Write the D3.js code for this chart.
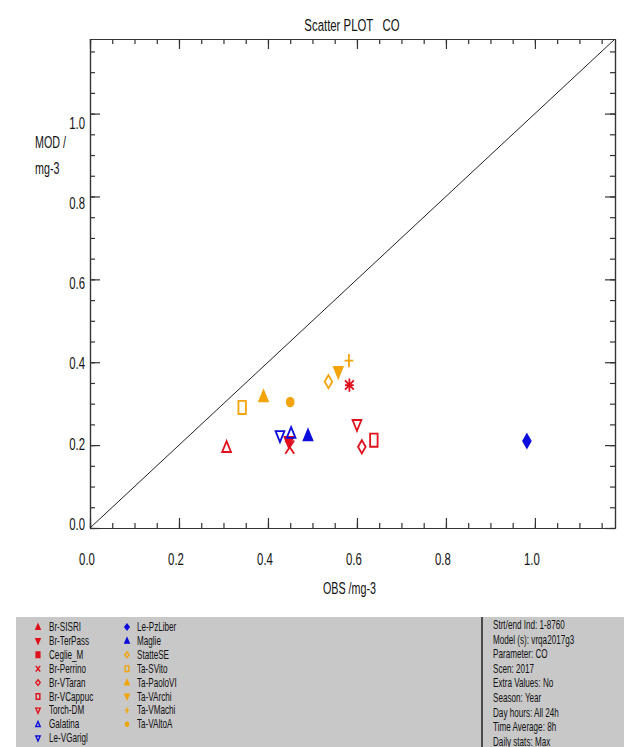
<!DOCTYPE html>
<html><head><meta charset="utf-8">
<script src="https://cdn.jsdelivr.net/npm/d3@7"></script>
<style>
html,body{margin:0;padding:0;background:#fff;}
svg{display:block;}
text{font-family:"Liberation Sans",Arial,sans-serif;fill:#111;white-space:pre;}
</style></head>
<body>
<svg id="chart" width="624" height="747"></svg>
<script>
// ---------------- DATA ----------------
const stations = ["Br-SISRI","Br-TerPass","Ceglie_M","Br-Perrino","Br-VTaran","Br-VCappuc","Torch-DM","Galatina","Le-VGarigl",
                  "Le-PzLiber","Maglie","StatteSE","Ta-SVito","Ta-PaoloVI","Ta-VArchi","Ta-VMachi","Ta-VAltoA"];
const obsValues = [0.307,0.447,0.583,0.449,0.611,0.638,0.600,0.452,0.427,
                   0.982,0.490,0.536,0.342,0.390,0.558,0.582,0.450];
const modValues = [0.195,0.208,0.345,0.195,0.196,0.212,0.249,0.229,0.222,
                   0.210,0.223,0.353,0.291,0.317,0.377,0.404,0.304];
const colorKeys = ["red","red","red","red","red","red","red","blue","blue",
                   "blue","blue","orange","orange","orange","orange","orange","orange"];
const shapes = ["triUp","triDown","asterisk","cross","diamond","square","triDown","triUp","triDown",
                "diamond","triUp","diamond","square","triUp","triDown","plus","circle"];
const filled = [false,true,false,false,false,false,false,false,false,
                true,true,false,false,true,true,false,true];
const legendShapes = ["triUp","triDown","square","cross","diamond","square","triDown","triUp","triDown",
                      "diamond","triUp","diamond","square","triUp","triDown","plus","circle"];
const legendFilled = [true,true,true,false,false,false,false,false,false,
                      true,true,false,false,true,true,false,true];
const axisTicks = [0.0,0.2,0.4,0.6,0.8,1.0];
const tickLabels = ["0.0","0.2","0.4","0.6","0.8","1.0"];
const minorTicks = d3.range(0,1.1801,0.05);
const infoLines = ["Strt/end Ind: 1-8760","Model (s): vrqa2017g3","Parameter: CO","Scen: 2017","Extra Values: No",
                   "Season: Year","Day hours: All 24h","Time Average: 8h","Daily stats: Max"];
const titleText = "Scatter PLOT   CO";
const xTitle = "OBS /mg-3";
const yTitle = ["MOD /","mg-3"];

// ---------------- STYLE ----------------
const palette = {red:"#e0101c", blue:"#0c0cdc", orange:"#f2a40a"};
const SQ = 0.67;
const svg = d3.select("#chart");
const x = d3.scaleLinear().domain([0,1.18]).range([90,615]);
const y = d3.scaleLinear().domain([0,1.18]).range([528,39]);
// y tick label placement (labels sit slightly inside the tick span, as in the original)
const yLab = d3.scaleLinear().domain([0,1]).range([y(0)-2, y(1)+11]);

function txt(g,px,py,str,size,anchor,sq){
  return g.append("text").attr("transform",`translate(${px},${py}) scale(${sq||SQ},1)`)
    .attr("font-size",size).attr("text-anchor",anchor||"start").text(str);
}
function shapePath(type,hw,hh){
  const p = d3.path();
  switch(type){
    case "triUp": p.moveTo(-hw,hh*0.8);p.lineTo(hw,hh*0.8);p.lineTo(0,-hh);p.closePath();break;
    case "triDown": p.moveTo(-hw,-hh*0.8);p.lineTo(hw,-hh*0.8);p.lineTo(0,hh);p.closePath();break;
    case "square": p.rect(-hw*0.85,-hh,hw*1.7,hh*2);break;
    case "diamond": p.moveTo(0,-hh);p.lineTo(hw,0);p.lineTo(0,hh);p.lineTo(-hw,0);p.closePath();break;
    case "cross": p.moveTo(-hw,-hh);p.lineTo(hw,hh);p.moveTo(hw,-hh);p.lineTo(-hw,hh);break;
    case "plus": p.moveTo(-hw,0);p.lineTo(hw,0);p.moveTo(0,-hh);p.lineTo(0,hh);break;
    case "asterisk": p.moveTo(-hw,-hh*0.7);p.lineTo(hw,hh*0.7);p.moveTo(hw,-hh*0.7);p.lineTo(-hw,hh*0.7);
                     p.moveTo(0,-hh);p.lineTo(0,hh);p.moveTo(-hw,0);p.lineTo(hw,0);break;
  }
  return p.toString();
}
function drawShape(g,type,isFilled,col,hw,hh,sw){
  if(type==="circle"){
    return g.append("ellipse").attr("rx",hw).attr("ry",hh)
      .attr("fill",isFilled?col:"none").attr("stroke",col).attr("stroke-width",isFilled?0:sw);
  }
  const open = ["cross","plus","asterisk"].includes(type);
  return g.append("path").attr("d",shapePath(type,hw,hh))
    .attr("fill",(isFilled&&!open)?col:"none").attr("stroke",col).attr("stroke-width",sw)
    .attr("stroke-linejoin","miter");
}

// ---------------- TITLE ----------------
txt(svg,352,31,titleText,17,"middle");

// ---------------- AXES ----------------
const gAx = svg.append("g").attr("class","axes");
const [x0,x1] = x.range(), [y0,y1] = y.range();
gAx.append("g").attr("transform",`translate(0,${y0})`).call(d3.axisBottom(x).tickValues(minorTicks).tickSize(-5).tickFormat("").tickSizeOuter(0));
gAx.append("g").attr("transform",`translate(0,${y0})`).call(d3.axisBottom(x).tickValues(axisTicks).tickSize(-10).tickFormat("").tickSizeOuter(0));
gAx.append("g").attr("transform",`translate(0,${y1})`).call(d3.axisTop(x).tickValues(minorTicks).tickSize(-5).tickFormat("").tickSizeOuter(0));
gAx.append("g").attr("transform",`translate(0,${y1})`).call(d3.axisTop(x).tickValues(axisTicks).tickSize(-10).tickFormat("").tickSizeOuter(0));
gAx.append("g").attr("transform",`translate(${x0},0)`).call(d3.axisLeft(y).tickValues(minorTicks).tickSize(-5).tickFormat("").tickSizeOuter(0));
gAx.append("g").attr("transform",`translate(${x0},0)`).call(d3.axisLeft(y).tickValues(axisTicks).tickSize(-10).tickFormat("").tickSizeOuter(0));
gAx.append("g").attr("transform",`translate(${x1},0)`).call(d3.axisRight(y).tickValues(minorTicks).tickSize(-5).tickFormat("").tickSizeOuter(0));
gAx.append("g").attr("transform",`translate(${x1},0)`).call(d3.axisRight(y).tickValues(axisTicks).tickSize(-10).tickFormat("").tickSizeOuter(0));
gAx.selectAll(".domain,line").attr("stroke","#333").attr("stroke-width",1.2);

// tick labels
axisTicks.forEach((v,i)=>{
  txt(svg,x(v)-3,565,tickLabels[i],17,"middle");
  txt(svg,x0-5,yLab(v)+4,tickLabels[i],17,"end");
});
txt(svg,(x0+x1)/2-3,594,xTitle,16,"middle");
txt(svg,35,148,yTitle[0],16,"start");
txt(svg,35,174,yTitle[1],16,"start");

// diagonal
svg.append("line").attr("x1",x(0)).attr("y1",y(0)).attr("x2",x(1.18)).attr("y2",y(1.18))
  .attr("stroke","#222").attr("stroke-width",1);

// ---------------- POINTS ----------------
const gPts = svg.append("g");
stations.forEach((s,i)=>{
  const g = gPts.append("g").attr("transform",`translate(${x(obsValues[i])},${y(modValues[i])})`);
  const t = shapes[i];
  const hw = t==="diamond"?3.8:(t==="circle"?4.3:4.4);
  const hh = (t==="triUp"||t==="triDown")?6:(t==="circle"?5.3:6.6);
  drawShape(g,t,filled[i],palette[colorKeys[i]],hw,hh,1.8);
});

// ---------------- LEGEND PANEL ----------------
const panel = svg.append("g");
panel.append("rect").attr("x",16).attr("y",617).attr("width",608).attr("height",130).attr("fill","#c8c8c8");
panel.append("line").attr("x1",482).attr("x2",482).attr("y1",617).attr("y2",747).attr("stroke","#222").attr("stroke-width",1.5);
stations.forEach((s,i)=>{
  const col = i<9?0:1, row = i<9?i:i-9;
  const sx = col===0?38:127, tx = col===0?49:137;
  const cy = 627+row*13.9;
  const g = panel.append("g").attr("transform",`translate(${sx},${cy})`);
  drawShape(g,legendShapes[i],legendFilled[i],palette[colorKeys[i]],2.2,2.8,1.4);
  txt(panel,tx,cy+4,s,12.5,"start",0.65);
});
infoLines.forEach((t,i)=>{
  txt(panel,493,629+i*14.6,t,12.5,"start",0.65);
});
</script>
</body></html>
